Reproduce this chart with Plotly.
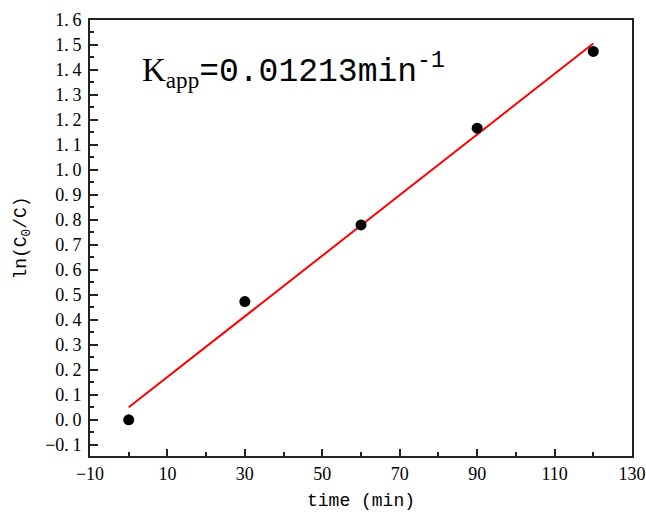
import plotly.graph_objects as go

time_min = [0, 30, 60, 90, 120]
ln_c0_c = [0.0, 0.473, 0.78, 1.167, 1.474]
fit_x = [0, 120]
fit_y = [0.05, 1.506]
x_ticks = [-10, 10, 30, 50, 70, 90, 110, 130]
y_ticks = [round(-0.1 + 0.1 * i, 1) for i in range(18)]

SERIF = "Liberation Serif"
MONO = "Liberation Mono"


def fmt_x(v):
    return str(v).replace("-", "\u2212")


def fmt_y(v):
    return f"{v:.1f}".replace("-", "\u2212").replace(".", ".\u2009")


fig = go.Figure()
fig.add_trace(go.Scatter(x=fit_x, y=fit_y, mode="lines",
                         line=dict(color="#ff0000", width=2), showlegend=False))
fig.add_trace(go.Scatter(x=time_min, y=ln_c0_c, mode="markers",
                         marker=dict(color="black", size=11), showlegend=False))

fig.update_layout(
    width=646, height=514,
    margin=dict(l=90, r=14, t=20, b=58),
    plot_bgcolor="white", paper_bgcolor="white",
    font=dict(family=SERIF, color="black", size=17),
)
fig.update_xaxes(
    range=[-10, 130], tickmode="array", tickvals=x_ticks,
    ticktext=[fmt_x(v) for v in x_ticks], automargin=False,
    showgrid=False, zeroline=False, showline=True, linecolor="#222", linewidth=2,
    mirror=True, ticks="inside", ticklen=7, tickwidth=1.5, tickcolor="#222",
    minor=dict(ticks="inside", ticklen=4, tickwidth=1.5, tickcolor="#222", dtick=20, tick0=0),
    title=dict(text="time (min)", font=dict(family=MONO, size=18), standoff=11),
    tickfont=dict(family=SERIF, size=18),
)
fig.update_yaxes(
    range=[-0.145, 1.6], tickmode="array", tickvals=y_ticks,
    ticktext=[fmt_y(v) for v in y_ticks], automargin=False, ticklabelstandoff=3,
    showgrid=False, zeroline=False, showline=True, linecolor="#222", linewidth=2,
    mirror=True, ticks="inside", ticklen=8, tickwidth=1.5, tickcolor="#222",
    minor=dict(ticks="inside", ticklen=4, tickwidth=1.5, tickcolor="#222", dtick=0.1, tick0=0.05),
    title=dict(text="ln(C<sub>0</sub>/C)", font=dict(family=MONO, size=18), standoff=14),
    tickfont=dict(family=SERIF, size=18),
)
fig.add_annotation(
    x=(140 - 90) / 542, y=1 - (70 - 20) / 436, xref="paper", yref="paper",
    text=("<span style='font-family:Liberation Serif'>K<sub>app</sub></span>"
          "=0.01213min<sup>-1</sup>"),
    showarrow=False, xanchor="left", yanchor="middle",
    font=dict(family=MONO, size=33, color="black"),
)

fig.write_html("out.html")
